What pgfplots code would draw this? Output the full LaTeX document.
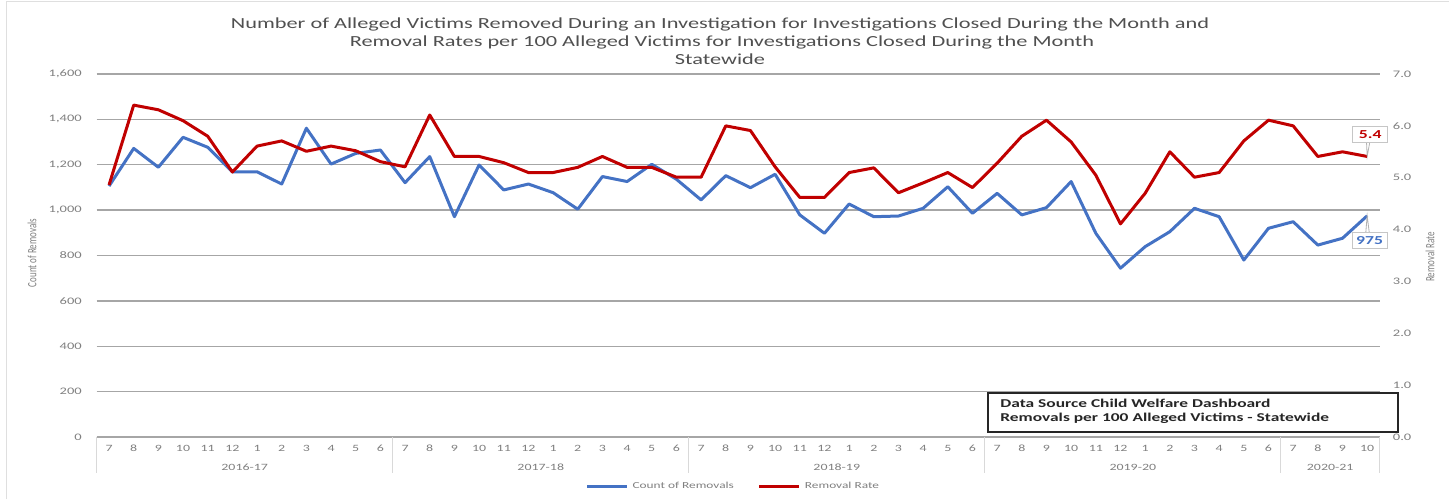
\documentclass[border=0pt]{standalone}
\usepackage{fontspec}
\setmainfont{Carlito}[FakeStretch=1.45]
\newfontfamily\plainfont{Carlito}
\usepackage{pgfplots}
\usepackage{pgfplotstable}
\pgfplotsset{compat=1.18}
\definecolor{cblue}{HTML}{4472C4}
\definecolor{cred}{HTML}{C00000}
\definecolor{gridc}{HTML}{A6A6A6}
\definecolor{sepc}{HTML}{D9D9D9}
\definecolor{txt}{HTML}{7F7F7F}
\definecolor{ttl}{HTML}{505050}
\newcommand\fs[1]{\fontsize{#1}{#1}\selectfont}
\newcommand\pxy[2]{({#1*0.5pt},{(499-#2)*0.5pt})}

\pgfplotstableread{
i count rate
0 1106 4.86
1 1272 6.40
2 1189 6.31
3 1321 6.10
4 1277 5.80
5 1169 5.11
6 1169 5.61
7 1115 5.71
8 1361 5.51
9 1203 5.61
10 1250 5.52
11 1265 5.31
12 1121 5.21
13 1236 6.21
14 971 5.41
15 1199 5.41
16 1089 5.29
17 1115 5.10
18 1077 5.10
19 1004 5.20
20 1148 5.41
21 1126 5.20
22 1202 5.20
23 1136 5.01
24 1045 5.01
25 1152 6.00
26 1099 5.91
27 1158 5.21
28 979 4.62
29 898 4.62
30 1027 5.10
31 971 5.19
32 974 4.71
33 1008 4.90
34 1103 5.10
35 986 4.81
36 1074 5.28
37 979 5.80
38 1011 6.11
39 1126 5.69
40 898 5.05
41 744 4.11
42 839 4.70
43 905 5.50
44 1008 5.01
45 971 5.10
46 780 5.71
47 920 6.11
48 949 6.00
49 846 5.41
50 876 5.50
51 975 5.41
}\data

\begin{document}
\begin{tikzpicture}
\useasboundingbox (0,0) rectangle (724.5pt,249.5pt);
\draw[gray!25, line width=0.5pt] \pxy{6}{499} -- \pxy{6}{2} -- \pxy{1449}{2};
% title
\node[anchor=base, font=\fs{7.7}, text=ttl] at \pxy{720}{28.3} {Number of Alleged Victims Removed During an Investigation for Investigations Closed During the Month and};
\node[anchor=base, font=\fs{7.7}, text=ttl] at \pxy{722}{46.5} {Removal Rates per 100 Alleged Victims for Investigations Closed During the Month};
\node[anchor=base, font=\fs{7.7}, text=ttl] at \pxy{720}{64.3} {Statewide};
% axis titles
\node[rotate=90, font=\plainfont\fs{4.5}, text=txt] at \pxy{32}{253} {\scalebox{1}[1.4]{Count of Removals}};
\node[rotate=90, font=\plainfont\fs{4.5}, text=txt] at \pxy{1430}{257} {\scalebox{1}[1.4]{Removal Rate}};

\begin{axis}[
  at={(48.35pt,31pt)}, anchor=south west,
  scale only axis, width=641.4pt, height=181.5pt,
  xmin=-0.5, xmax=51.5, ymin=0, ymax=1600,
  axis line style={draw=none}, tick style={draw=none}, major tick length=0pt,
  ytick={0,200,...,1600},
  ymajorgrids, major grid style={gridc, line width=0.7pt},
  xtick={0,...,51},
  xticklabels={7,8,9,10,11,12,1,2,3,4,5,6,7,8,9,10,11,12,1,2,3,4,5,6,7,8,9,10,11,12,1,2,3,4,5,6,7,8,9,10,11,12,1,2,3,4,5,6,7,8,9,10},
  xticklabel style={font=\fs{4.8}, text=txt, inner sep=0pt, yshift=-3.8pt},
  yticklabel style={font=\fs{5}, text=txt, inner sep=0pt, xshift=-7.3pt},
  /pgf/number format/assume math mode=true,
  /pgf/number format/1000 sep={,},
  clip=false,
]
\foreach \s in {-0.5,11.5,23.5,35.5,47.5,51.5}{
  \edef\temp{\noexpand\draw[sepc, line width=0.6pt] (axis cs:\s,0) -- (axis cs:\s,-159);}\temp
}
\node[font=\fs{4.8}, text=txt] at (axis cs:5.5,-133) {2016-17};
\node[font=\fs{4.8}, text=txt] at (axis cs:17.5,-133) {2017-18};
\node[font=\fs{4.8}, text=txt] at (axis cs:29.5,-133) {2018-19};
\node[font=\fs{4.8}, text=txt] at (axis cs:41.5,-133) {2019-20};
\node[font=\fs{4.8}, text=txt] at (axis cs:49.5,-133) {2020-21};
\addplot[cblue, line width=1.5pt, line join=round] table[x=i, y=count] {\data};
\coordinate (pb) at (axis cs:51,975);
\end{axis}

\begin{axis}[
  at={(48.35pt,31pt)}, anchor=south west,
  scale only axis, width=641.4pt, height=181.5pt,
  xmin=-0.5, xmax=51.5, ymin=0, ymax=7,
  axis y line*=right, axis x line=none,
  axis line style={draw=none}, tick style={draw=none}, major tick length=0pt,
  ytick={0,1,...,7}, xtick=\empty,
  yticklabel style={font=\fs{5}, text=txt, inner sep=0pt, xshift=6.5pt,
    /pgf/number format/.cd, fixed, fixed zerofill, precision=1},
  /pgf/number format/assume math mode=true,
  clip=false,
  legend columns=2,
  legend style={at={(0.497,-0.1377)}, anchor=center, draw=none, fill=none,
    font=\fs{4.6}, text=txt, inner sep=0pt,
    /tikz/every even column/.append style={column sep=10pt}},
  legend image code/.code={\draw[#1] (0pt,0pt) -- (20pt,0pt);},
]
\addlegendimage{cblue, line width=1.5pt}
\addlegendentry{Count of Removals}
\addplot[cred, line width=1.5pt, line join=round] table[x=i, y=rate] {\data};
\addlegendentry{Removal Rate}
\coordinate (pr) at (axis cs:51,5.41);
\end{axis}

% data labels
\filldraw[draw=gray!60, fill=white, line width=0.4pt] (pr) -- ([shift={(-0.5pt,11pt)}]pr) -- ([shift={(2pt,11pt)}]pr) -- cycle;
\node[draw=gray!45, fill=white, line width=0.5pt, minimum width=17.5pt, minimum height=8pt, inner sep=0pt,
  font=\bfseries\fs{6.1}, text=cred] at ([shift={(1.5pt,11pt)}]pr) {5.4};
\filldraw[draw=gray!60, fill=white, line width=0.4pt] (pb) -- ([shift={(-1pt,-12pt)}]pb) -- ([shift={(1.5pt,-12pt)}]pb) -- cycle;
\node[draw=gray!45, fill=white, line width=0.5pt, minimum width=17.5pt, minimum height=8pt, inner sep=0pt,
  font=\bfseries\fs{6.1}, text=cblue] at ([shift={(1.25pt,-12.3pt)}]pb) {975};

% data source box
\draw[fill=white, draw=black!85, line width=0.75pt] \pxy{988}{393} rectangle \pxy{1398}{432};
\node[anchor=base west, font=\bfseries\fs{6}, text=black!85, inner sep=0pt] at \pxy{1000}{407.7} {Data Source Child Welfare Dashboard};
\node[anchor=base west, font=\bfseries\fs{6}, text=black!85, inner sep=0pt] at \pxy{1000}{421.7} {Removals per 100 Alleged Victims - Statewide};
\end{tikzpicture}
\end{document}
